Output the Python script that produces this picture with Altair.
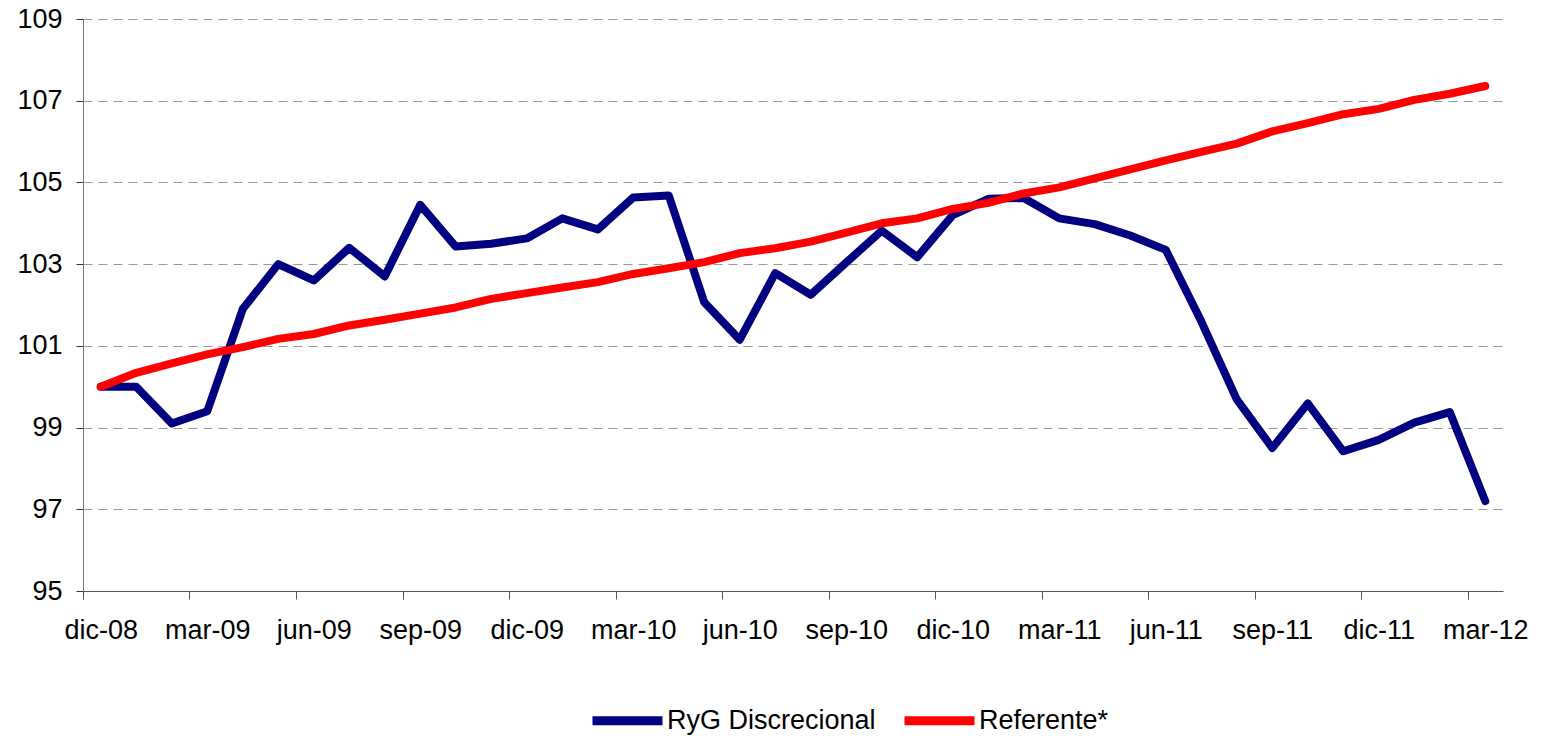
import altair as alt
import pandas as pd

months = [
    "dic-08", "ene-09", "feb-09", "mar-09", "abr-09", "may-09", "jun-09", "jul-09",
    "ago-09", "sep-09", "oct-09", "nov-09", "dic-09", "ene-10", "feb-10", "mar-10",
    "abr-10", "may-10", "jun-10", "jul-10", "ago-10", "sep-10", "oct-10", "nov-10",
    "dic-10", "ene-11", "feb-11", "mar-11", "abr-11", "may-11", "jun-11", "jul-11",
    "ago-11", "sep-11", "oct-11", "nov-11", "dic-11", "ene-12", "feb-12", "mar-12",
]

ryg = [
    100.0, 100.0, 99.1, 99.4, 101.9, 103.0, 102.6, 103.4, 102.7, 104.45,
    103.43, 103.5, 103.63, 104.12, 103.85, 104.63, 104.68, 102.07, 101.15, 102.78,
    102.25, 103.04, 103.82, 103.17, 104.2, 104.6, 104.62, 104.12, 103.98, 103.7,
    103.35, 101.6, 99.69, 98.5, 99.59, 98.42, 98.7, 99.12, 99.38, 97.2,
]

referente = [
    100.0, 100.34, 100.57, 100.79, 100.97, 101.17, 101.29, 101.5, 101.64, 101.79,
    101.94, 102.15, 102.29, 102.43, 102.56, 102.76, 102.9, 103.05, 103.27, 103.39,
    103.55, 103.77, 104.0, 104.12, 104.35, 104.5, 104.73, 104.88, 105.1, 105.32,
    105.54, 105.75, 105.95, 106.25, 106.45, 106.67, 106.8, 107.02, 107.17, 107.36,
]

series_names = ["RyG Discrecional", "Referente*"]
series_colors = ["#000080", "#FF0000"]
y_ticks = [95, 97, 99, 101, 103, 105, 107, 109]
x_label_idx = list(range(0, len(months), 3))

W, H = 1420, 572
half_band = W / len(months) / 2.0

df_ryg = pd.DataFrame({"idx": range(len(months)), "mes": months, "valor": ryg, "serie": series_names[0]})
df_ref = pd.DataFrame({"idx": range(len(months)), "mes": months, "valor": referente, "serie": series_names[1]})

label_arr = "[" + ",".join("'" + m + "'" for m in months) + "]"

FONT = "Liberation Sans, Arial, sans-serif"
FS = 27

x_enc = alt.X(
    "idx:Q",
    scale=alt.Scale(domain=[-0.5, len(months) - 0.5], nice=False, zero=False),
    axis=alt.Axis(
        title=None,
        values=x_label_idx,
        labelExpr=label_arr + "[datum.value]",
        tickOffset=-half_band,
        labelOffset=half_band,
        tickSize=8,
        tickColor="#555555",
        domainColor="#555555",
        labelPadding=18,
        labelFontSize=FS,
        labelFont=FONT,
        labelColor="#000000",
        labelFlush=False,
        labelOverlap=False,
        grid=False,
    ),
)

y_enc = alt.Y(
    "valor:Q",
    scale=alt.Scale(domain=[95, 109], nice=False, zero=False),
    axis=alt.Axis(
        title=None,
        values=y_ticks,
        tickSize=7,
        tickColor="#333333",
        domainColor="#777777",
        labelPadding=14,
        labelFontSize=FS,
        labelFont=FONT,
        labelColor="#000000",
        grid=True,
        gridColor="#999999",
        gridDash=[9, 6],
        gridWidth=1,
    ),
)

color_enc = alt.Color(
    "serie:N",
    scale=alt.Scale(domain=series_names, range=series_colors),
    legend=alt.Legend(
        title=None,
        orient="none",
        direction="horizontal",
        legendX=505,
        legendY=662,
        symbolType="stroke",
        symbolSize=4900,
        symbolStrokeWidth=9,
        labelFontSize=FS,
        labelFont=FONT,
        labelColor="#000000",
        labelLimit=0,
        labelOffset=0,
        columnPadding=10,
        padding=0,
    ),
)

line_kw = dict(strokeWidth=8, strokeJoin="round", strokeCap="round")

l1 = alt.Chart(df_ryg).mark_line(**line_kw).encode(x=x_enc, y=y_enc, color=color_enc)
l2 = alt.Chart(df_ref).mark_line(**line_kw).encode(x=x_enc, y=y_enc, color=color_enc)

chart = (
    alt.layer(l1, l2)
    .properties(
        width=W,
        height=H,
        autosize=alt.AutoSizeParams(type="none"),
        padding={"left": 75, "top": 11, "right": 30, "bottom": 145},
        background="#ffffff",
    )
    .configure_view(stroke=None)
)

chart.save("out.html", embed_options={"renderer": "svg", "actions": False})
